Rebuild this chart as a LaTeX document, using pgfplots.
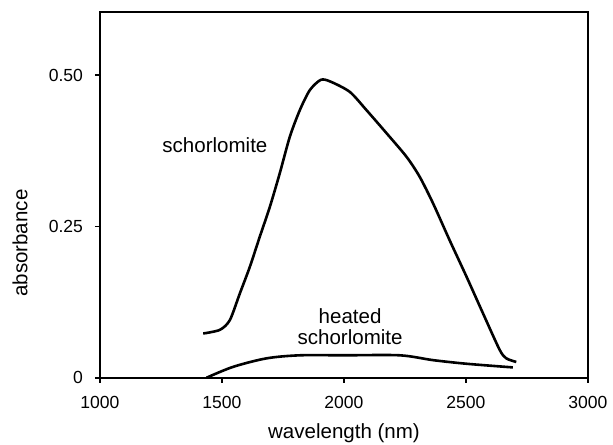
\documentclass[border=0pt]{standalone}
\usepackage{pgfplots}
\pgfplotsset{compat=1.18}
\usepackage{fontspec}
\setmainfont{Liberation Sans}
\begin{document}
\begin{tikzpicture}
  % page = 613x445 px at 0.5bp per px, axis south west at (0,0)
  \useasboundingbox (-50bp,-33.65bp) rectangle (256.5bp,188.85bp);
  \begin{axis}[
      scale only axis,
      width=244bp, height=182.85bp,
      xmin=1000, xmax=3000,
      ymin=0, ymax=0.604,
      xtick={1000,1500,2000,2500,3000},
      xticklabels={1000,1500,2000,2500,3000},
      ytick={0,0.25,0.5},
      yticklabels={0,0.25,0.50},
      tick align=outside,
      major tick length=2.5bp,
      xtick pos=bottom, ytick pos=left,
      axis line style={line width=0.9bp},
      tick style={line width=0.8bp, black},
      tick label style={font=\fontsize{8.8}{10}\selectfont},
      xticklabel style={yshift=-3.5bp},
      yticklabel style={xshift=-2.5bp},
      /pgf/number format/assume math mode=true,
      xlabel={wavelength (nm)},
      ylabel={absorbance},
      label style={font=\fontsize{10.3}{12}\selectfont},
      xlabel style={at={(axis description cs:0.5,-0.151)}, anchor=center},
      ylabel style={at={(axis description cs:-0.164,0.368)}, anchor=center, rotate=0},
    ]

    % schorlomite
    \addplot[black, line width=1.3bp, smooth, tension=0.45] coordinates {
        (1423,0.073) (1491,0.079) (1532,0.095) (1573,0.139) (1614,0.183)
        (1655,0.233) (1696,0.282) (1737,0.338) (1778,0.398) (1819,0.442)
        (1860,0.475) (1905,0.492) (1945,0.489) (2024,0.472) (2092,0.442)
        (2174,0.404) (2256,0.365) (2310,0.332) (2365,0.288) (2433,0.227)
        (2502,0.167) (2570,0.106) (2638,0.046) (2665,0.032) (2706,0.026)
      };

    % heated schorlomite
    \addplot[black, line width=1.3bp, smooth, tension=0.5] coordinates {
        (1437,0.000) (1546,0.018) (1683,0.032) (1819,0.037) (2000,0.037)
        (2228,0.037) (2365,0.029) (2503,0.023) (2692,0.017)
      };

    \node[font=\fontsize{10.3}{12}\selectfont] at (axis cs:1471,0.384) {schorlomite};
    \node[font=\fontsize{10.3}{10.4}\selectfont, align=center] at (axis cs:2025,0.084) {heated\\schorlomite};
  \end{axis}
\end{tikzpicture}
\end{document}
